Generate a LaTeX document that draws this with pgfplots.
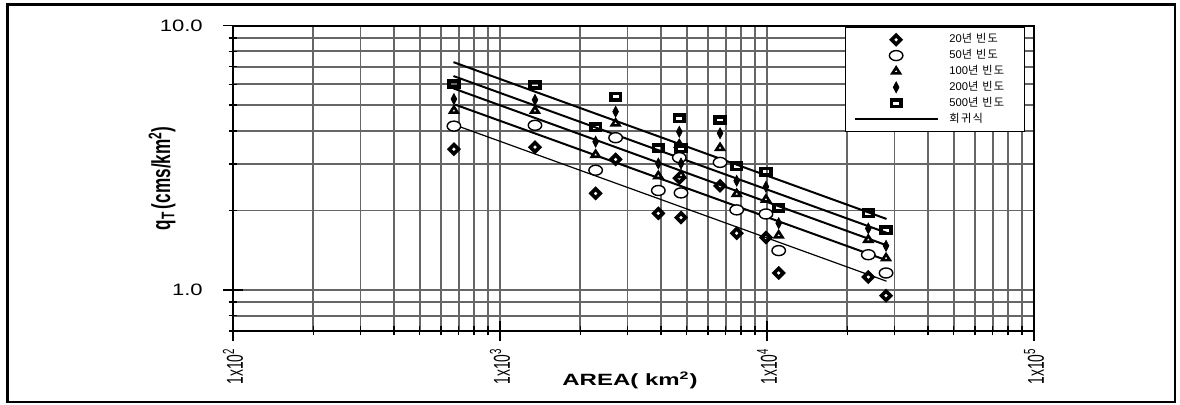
\documentclass[border=0pt]{standalone}
\usepackage{fontspec}
\setmainfont{Liberation Sans}
\newfontfamily\kr[LetterSpace=12]{Noto Sans CJK KR}
\usepackage{graphicx}
\usepackage{pgfplots}
\usepackage{pgfplotstable}
\pgfplotsset{compat=1.18}
\newcommand{\sqv}[1]{\scalebox{1}[0.75]{#1}}
\newcommand{\sqx}[1]{\scalebox{1}[0.68]{#1}}
\newcommand{\sqr}[1]{\scalebox{0.66}[1]{#1}}
\newcommand{\sqt}[1]{\scalebox{0.6}[1]{#1}}

\pgfplotstableread{
A     q20   q50   q100  q200  q500
672   3.41  4.17  4.77  5.28  6.02
1352  3.47  4.20  4.77  5.24  5.97
2281  2.32  2.84  3.25  3.64  4.13
2710  3.12  3.77  4.27  4.73  5.39
3917  1.95  2.38  2.70  3.01  3.44
4693  2.65  3.17  3.55  3.97  4.46
4763  1.88  2.33  2.72  3.01  3.44
6670  2.48  3.04  3.45  3.92  4.40
7700  1.64  2.01  2.31  2.59  2.94
9910  1.58  1.94  2.20  2.46  2.80
11060 1.16  1.41  1.61  1.79  2.05
23950 1.12  1.36  1.55  1.71  1.95
27910 0.952 1.16  1.32  1.47  1.68
}\stations

\begin{document}
\begin{tikzpicture}
\begin{axis}[
  width=400.5pt, height=152.65pt, scale only axis,
  xmode=log, ymode=log,
  xmin=100, xmax=100000, ymin=0.7, ymax=10,
  xtick={100,1000,10000,100000},
  xticklabels={\sqt{1x10\textsuperscript{2}},\sqt{1x10\textsuperscript{3}},\sqt{1x10\textsuperscript{4}},\sqt{1x10\textsuperscript{5}}},
  minor xtick={200,300,400,500,600,700,800,900,2000,3000,4000,5000,6000,7000,8000,9000,20000,30000,40000,50000,60000,70000,80000,90000},
  ytick={1,10},
  yticklabels={\sqv{1.0},\sqv{10.0}},
  minor ytick={0.7,0.8,0.9,2,3,4,5,6,7,8,9},
  tick pos=left,
  grid=both,
  major grid style={black!60, line width=0.9pt},
  minor grid style={black!60, line width=0.9pt},
  axis line style={black, line width=1pt},
  tick align=center, major tick length=10pt, minor tick length=4.5pt,
  tick style={black, line width=0.8pt},
  xticklabel style={font=\fontsize{11.5}{13}\selectfont, yshift=-3.5pt, rotate=90, anchor=east, inner sep=0pt},
  yticklabel style={font=\fontsize{11}{13}\selectfont, xshift=-10pt, anchor=east, inner sep=0pt},
  clip=false,
  ylabel={\sqr{q\textsubscript{T}\,(cms/km\textsuperscript{2})}},
  ylabel style={at={(axis description cs:-0.0886,0.5)}, anchor=center, font=\fontsize{13}{15}\selectfont\bfseries},
  xlabel={\sqx{AREA( km\textsuperscript{2})}},
  xlabel style={at={(axis description cs:0.4956,-0.1605)}, anchor=center, font=\fontsize{12}{14}\selectfont\bfseries},
  legend image code/.code={\draw[mark repeat=2,mark phase=2,#1] plot coordinates {(0pt,0pt) (20.75pt,0pt) (41.5pt,0pt)};},
  legend cell align=left,
  legend style={at={(axis description cs:0.9888,0.9957)}, anchor=north east, draw=black, line width=0.6pt, fill=white,
    font=\fontsize{5.6}{6.5}\selectfont, inner xsep=4pt, inner ysep=2.5pt, row sep=0.8pt, nodes={inner sep=0.5pt}},
]
\addplot[black, line width=1pt, forget plot] coordinates {(669.6,7.28) (28030,1.858)};
\addplot[black, line width=1pt, forget plot] coordinates {(669.6,6.45) (28030,1.647)};
\addplot[black, line width=1pt, forget plot] coordinates {(669.6,5.79) (28030,1.477)};
\addplot[black, line width=1pt, forget plot] coordinates {(678.6,5.03) (28030,1.296)};
\addplot[black, line width=0.6pt, forget plot] coordinates {(678.6,4.21) (28030,1.080)};

\addplot[only marks, black, mark=square, mark size=1.6pt, mark options={rotate=45, fill=white, line width=1.8pt}] table[x=A,y=q20]{\stations};
\addlegendentry{\hspace{5pt}\makebox[33pt][l]{20{\kr 년 빈도}}}
\addplot[only marks, black, mark=*, mark size=2.5pt, mark options={xscale=1.35, fill=white, line width=0.7pt}] table[x=A,y=q50]{\stations};
\addlegendentry{\hspace{5pt}\makebox[33pt][l]{50{\kr 년 빈도}}}
\addplot[only marks, black, mark=triangle*, mark size=2.2pt, mark options={yscale=0.9, fill=white, line width=1.3pt}] table[x=A,y=q100]{\stations};
\addlegendentry{\hspace{5pt}\makebox[33pt][l]{100{\kr 년 빈도}}}
\addplot[only marks, black, mark=diamond*, mark size=2.7pt, mark options={xscale=0.7, fill=black, line width=0.4pt}] table[x=A,y=q200]{\stations};
\addlegendentry{\hspace{5pt}\makebox[33pt][l]{200{\kr 년 빈도}}}
\addplot[only marks, black, mark=square, mark size=1.6pt, mark options={xscale=1.5, fill=white, line width=1.8pt}] table[x=A,y=q500]{\stations};
\addlegendentry{\hspace{5pt}\makebox[33pt][l]{500{\kr 년 빈도}}}
\addlegendimage{black, line width=0.8pt}
\addlegendentry{\hspace{5pt}\makebox[33pt][l]{{\kr 회귀식}}}

\coordinate (bbsw) at (rel axis cs:-0.29089,-0.24238);
\coordinate (bbne) at (rel axis cs:1.18227,1.08418);
\coordinate (frsw) at (rel axis cs:-0.28152,-0.23256);
\coordinate (frne) at (rel axis cs:1.17603,1.06944);
\end{axis}
\pgfresetboundingbox
\path[use as bounding box] (bbsw) rectangle (bbne);
\draw[line width=1.2pt] (frsw) rectangle (frne);
\draw[line width=1.8pt] (frsw) -- (frsw |- frne);
\end{tikzpicture}
\end{document}
